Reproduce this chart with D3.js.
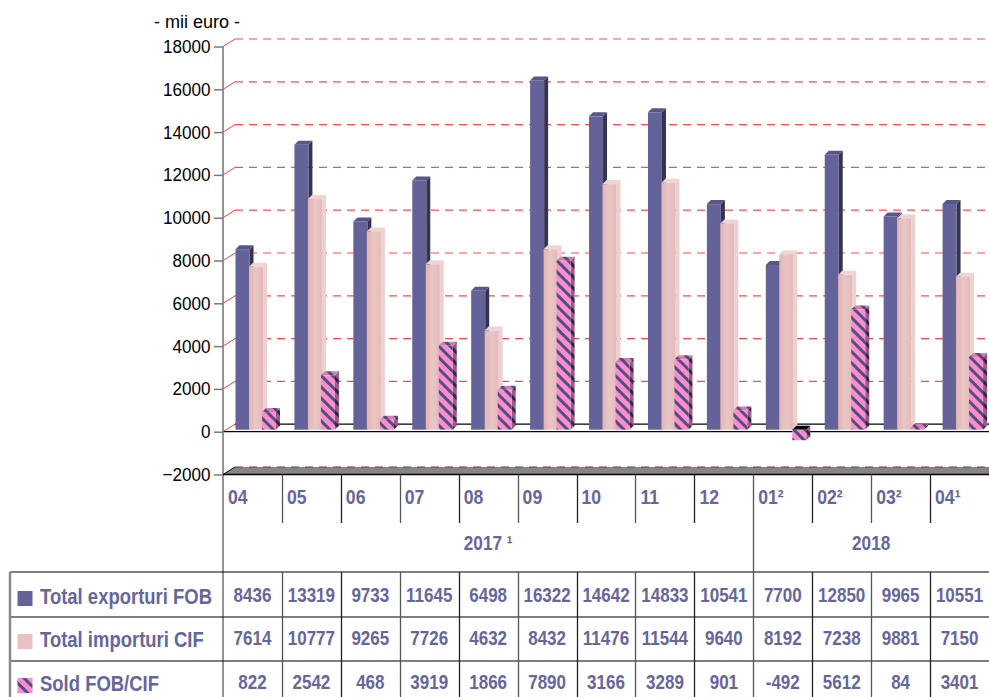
<!DOCTYPE html>
<html>
<head>
<meta charset="utf-8">
<script src="https://cdn.jsdelivr.net/npm/d3@7"></script>
<style>
  body { margin: 0; background: #fff; }
  svg { display: block; font-family: "Liberation Sans", Arial, sans-serif; }
</style>
</head>
<body>
<div id="chart"></div>
<script>
// data
var months = ["04", "05", "06", "07", "08", "09", "10", "11", "12", "01", "02", "03", "04"];
var monthSup = ["", "", "", "", "", "", "", "", "", "²", "²", "²", "¹"];
var years = ["2017 ¹", "2018"];
var yearSpan = [9, 4];
var exportsFOB = [8436, 13319, 9733, 11645, 6498, 16322, 14642, 14833, 10541, 7700, 12850, 9965, 10551];
var importsCIF = [7614, 10777, 9265, 7726, 4632, 8432, 11476, 11544, 9640, 8192, 7238, 9881, 7150];
var soldFOB = [822, 2542, 468, 3919, 1866, 7890, 3166, 3289, 901, -492, 5612, 84, 3401];
var seriesNames = ["Total exporturi FOB", "Total importuri CIF", "Sold FOB/CIF"];
var yTicks = [-2000, 0, 2000, 4000, 6000, 8000, 10000, 12000, 14000, 16000, 18000];

var width = 989, height = 697;
var txtColor = "#66669c";

var svg = d3.select("#chart").append("svg")
    .attr("width", width)
    .attr("height", height);

var defs = svg.append("defs");
function stripes(id, bg, fg) {
  var p = defs.append("pattern")
      .attr("id", id)
      .attr("patternUnits", "userSpaceOnUse")
      .attr("width", 8).attr("height", 8)
      .attr("patternTransform", "rotate(-45)");
  p.append("rect").attr("width", 8).attr("height", 8).attr("fill", bg);
  p.append("rect").attr("width", 3).attr("height", 8).attr("fill", fg);
}
stripes("soldFront", "#ff8ccc", "#4f4f82");
stripes("soldSide", "#a4558a", "#2a2a46");
stripes("soldTop", "#d67cb4", "#5a4a7a");

var impGrad = defs.append("linearGradient").attr("id", "impFront");
impGrad.append("stop").attr("offset", "0%").attr("stop-color", "#e2b4b4");
impGrad.append("stop").attr("offset", "50%").attr("stop-color", "#eac6c6");
impGrad.append("stop").attr("offset", "100%").attr("stop-color", "#e4baba");

// scales
var x = d3.scaleBand()
    .domain(d3.range(months.length))
    .range([223, 989]);

var y = d3.scaleLinear()
    .domain([-2000, 18000])
    .range([474.5, 46.5]);

var inner = d3.scaleOrdinal().domain(seriesNames).range([12.5, 26, 39]);

var wallDx = 12, wallDy = -7.5;   // back wall offset
var bDx = 4, bDy = -4, bOff = -2; // bar depth
var barW = 14;

// text helper, font is a bit narrow in the original
function label(g, tx, ty, s, size, weight, anchor, sx, fill) {
  return g.append("text")
      .attr("transform", "translate(" + tx + "," + ty + ") scale(" + sx + ",1)")
      .attr("text-anchor", anchor)
      .style("font-size", size + "px")
      .style("font-weight", weight)
      .attr("fill", fill)
      .text(s);
}

// floor at -2000
svg.append("polygon")
    .attr("points", [[223, y(-2000)], [223 + wallDx, y(-2000) + wallDy], [989, y(-2000) + wallDy], [989, y(-2000)]].join(" "))
    .attr("fill", "#858585");

// gridlines on back wall
var grid = svg.append("g");
yTicks.forEach(function(t) {
  var yy = y(t);
  grid.append("line")
      .attr("x1", 223).attr("y1", yy)
      .attr("x2", 223 + wallDx).attr("y2", yy + wallDy)
      .attr("stroke", t === -2000 ? "#000" : "#ff3b3b").attr("stroke-width", 1);
  grid.append("line")
      .attr("x1", 223 + wallDx).attr("y1", yy + wallDy)
      .attr("x2", 989).attr("y2", yy + wallDy)
      .attr("stroke", t === 0 ? "#000" : (t === -2000 ? "#8a3030" : "#ff4a4a"))
      .attr("stroke-width", t === 0 ? 1.3 : 1.2)
      .attr("stroke-dasharray", t === 0 ? null : "8,6");
});

// front zero line
svg.append("line")
    .attr("x1", 223).attr("x2", 989)
    .attr("y1", y(0)).attr("y2", y(0))
    .attr("stroke", "#000").attr("stroke-width", 1.3);

// 3D bars
function box(g, xl, v, front, top, side) {
  var yTop = y(Math.max(v, 0)) + bOff,
      yBot = y(Math.min(v, 0)) + bOff,
      xr = xl + barW;
  g.append("polygon")
      .attr("points", [[xr, yTop], [xr + bDx, yTop + bDy], [xr + bDx, yBot + bDy], [xr, yBot]].join(" "))
      .attr("fill", side);
  g.append("polygon")
      .attr("points", [[xl, yTop], [xl + bDx, yTop + bDy], [xr + bDx, yTop + bDy], [xr, yTop]].join(" "))
      .attr("fill", v < 0 ? "#000" : top);
  g.append("rect")
      .attr("x", xl).attr("y", yTop)
      .attr("width", barW).attr("height", Math.max(yBot - yTop, 0.5))
      .attr("fill", front);
}

var bars = svg.append("g");
months.forEach(function(m, i) {
  var c = x(i);
  box(bars, c + inner(seriesNames[0]), exportsFOB[i], "#636399", "#575788", "#34344f");
  box(bars, c + inner(seriesNames[1]), importsCIF[i], "url(#impFront)", "#f0d4d4", "#eed0d0");
  box(bars, c + inner(seriesNames[2]), soldFOB[i], "url(#soldFront)", "url(#soldTop)", "url(#soldSide)");
});

// y axis
var axis = svg.append("g")
    .attr("transform", "translate(223,0)")
    .call(d3.axisLeft(y).tickValues(yTicks).tickSize(9).tickPadding(5).tickFormat(d3.format("d")));
axis.select(".domain").remove();
axis.selectAll(".tick line").attr("stroke", "#7a7a7a").attr("stroke-width", 1.5);
axis.selectAll(".tick text")
    .attr("fill", "#000")
    .style("font-size", "19px")
    .style("font-family", "'Liberation Sans', Arial, sans-serif")
    .attr("transform", "scale(0.9,1)");

label(svg, 197, 28, "- mii euro -", 19, "normal", "middle", 0.95, "#000");

// table under the chart
var tbl = svg.append("g");
var rowY = [572, 617, 661];

// axis line running down through the table
tbl.append("line")
    .attr("x1", 223).attr("x2", 223).attr("y1", y(18000)).attr("y2", height)
    .attr("stroke", "#7a7a7a").attr("stroke-width", 1.6);

tbl.append("line")
    .attr("x1", 223).attr("x2", 989).attr("y1", y(-2000)).attr("y2", y(-2000))
    .attr("stroke", "#000").attr("stroke-width", 1.5);

rowY.forEach(function(r) {
  tbl.append("line")
      .attr("x1", 10).attr("x2", 989).attr("y1", r).attr("y2", r)
      .attr("stroke", "#000").attr("stroke-width", 1.2);
});
tbl.append("line")
    .attr("x1", 10).attr("x2", 10).attr("y1", 572).attr("y2", height)
    .attr("stroke", "#8a8a8a").attr("stroke-width", 2.5);

var yearBreak = yearSpan[0];
months.forEach(function(m, i) {
  if (i === 0) return;
  var xx = Math.round(x(i)) + 0.5;
  tbl.append("line")
      .attr("x1", xx).attr("x2", xx)
      .attr("y1", y(-2000)).attr("y2", i === yearBreak ? height : 523)
      .attr("stroke", i % 2 ? "#555" : "#222").attr("stroke-width", 1.3);
  if (i !== yearBreak) {
    tbl.append("line")
        .attr("x1", xx).attr("x2", xx)
        .attr("y1", 572).attr("y2", height)
        .attr("stroke", i % 2 ? "#555" : "#222").attr("stroke-width", 1.3);
  }
});

// month labels
months.forEach(function(m, i) {
  label(tbl, x(i) + 5, 504, m + monthSup[i], 20, "bold", "start", 0.88, txtColor);
});

// year labels
var start = 0;
years.forEach(function(yr, k) {
  var a = x(start), b = start + yearSpan[k] < months.length ? x(start + yearSpan[k]) : 989;
  label(tbl, (a + b) / 2, 550, yr, 20, "bold", "middle", 0.86, txtColor);
  start += yearSpan[k];
});

// row labels with legend keys
var rowMid = [596, 639, 683];
var keyFill = ["#636399", "#e8c2c2", "url(#soldFront)"];
seriesNames.forEach(function(s, k) {
  tbl.append("rect")
      .attr("x", 17.5).attr("y", rowMid[k] - 5)
      .attr("width", 15).attr("height", 15)
      .attr("fill", keyFill[k]);
  label(tbl, 40, rowMid[k] + 8, s, 22, "bold", "start", 0.84, txtColor);
});

// values
var rows = [exportsFOB, importsCIF, soldFOB];
rows.forEach(function(vals, k) {
  vals.forEach(function(v, i) {
    label(tbl, x(i) + x.bandwidth() / 2, rowMid[k] + 6, v, 20, "bold", "middle", 0.85, txtColor);
  });
});
</script>
</body>
</html>
